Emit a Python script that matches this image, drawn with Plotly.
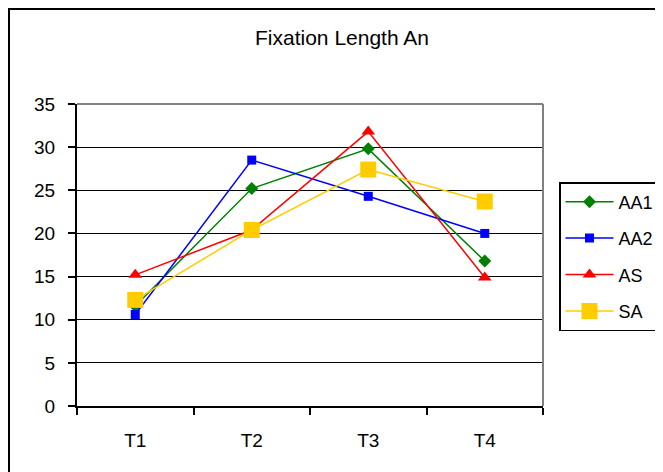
import plotly.graph_objects as go

categories = ["T1", "T2", "T3", "T4"]
aa1 = [11.6, 25.2, 29.8, 16.8]
aa2 = [10.6, 28.5, 24.3, 20.0]
as_ = [15.2, 20.4, 31.8, 14.9]
sa = [12.3, 20.4, 27.4, 23.7]

series = [
    ("AA1", aa1, "#008000", "diamond", 10),
    ("AA2", aa2, "#0000FF", "square", 9),
    ("AS", as_, "#FF0000", "triangle-up", 12),
    ("SA", sa, "#FFCC00", "square", 16),
]

# page body has an 8px margin, so the figure is 8px smaller than the window
W, H = 655, 464
L, T, PW, PH = 69, 96, 466, 302

fig = go.Figure()
for name, vals, col, sym, sz in series:
    fig.add_trace(go.Scatter(
        x=categories, y=vals, name=name, mode="lines+markers",
        line=dict(color=col, width=1.5),
        marker=dict(color=col, symbol=sym, size=sz),
        legendgroup=name,
    ))

fig.update_layout(
    width=W, height=H,
    margin=dict(l=L, r=W - L - PW, t=T, b=H - T - PH, autoexpand=False),
    paper_bgcolor="white", plot_bgcolor="white",
    font=dict(family="Liberation Sans, Arial", size=19, color="black"),
    title=dict(text="Fixation Length An", x=334 / W, xanchor="center",
               y=1 - 30 / H, yanchor="middle", yref="container",
               font=dict(size=21)),
    showlegend=True,
    legend=dict(x=(551 - L) / PW, xanchor="left", y=(T + PH - 174) / PH,
                yanchor="top",
                bordercolor="black", borderwidth=1.5, bgcolor="white",
                traceorder="grouped", tracegroupgap=10,
                itemwidth=48, entrywidth=70, font=dict(size=18)),
    xaxis=dict(type="category", range=[-0.5, 3.5], showgrid=False,
               tickson="boundaries", ticks="outside", ticklen=7,
               tickcolor="black", tickwidth=1.5,
               showline=True, linecolor="black", linewidth=2,
               ticklabelstandoff=16, zeroline=False),
    yaxis=dict(range=[0, 35], dtick=5, showgrid=True, gridcolor="black",
               gridwidth=1, ticks="outside", ticklen=7, tickcolor="black",
               tickwidth=1.5, showline=True, linecolor="black", linewidth=2,
               zeroline=False, ticklabelstandoff=9),
)

# plot area top and right edges (grey)
fig.add_shape(type="line", xref="paper", yref="paper", x0=0, x1=1, y0=1, y1=1,
              line=dict(color="#808080", width=2))
fig.add_shape(type="line", xref="paper", yref="paper", x0=1, x1=1, y0=0, y1=1,
              line=dict(color="#808080", width=2))

# outer chart frame
fig.add_shape(type="rect", xref="paper", yref="paper",
              x0=(1 - L) / PW, x1=(700 - L) / PW,
              y0=-(480 - T - PH) / PH, y1=1 + (T - 1) / PH,
              line=dict(color="black", width=2))

fig.write_html("out.html")
